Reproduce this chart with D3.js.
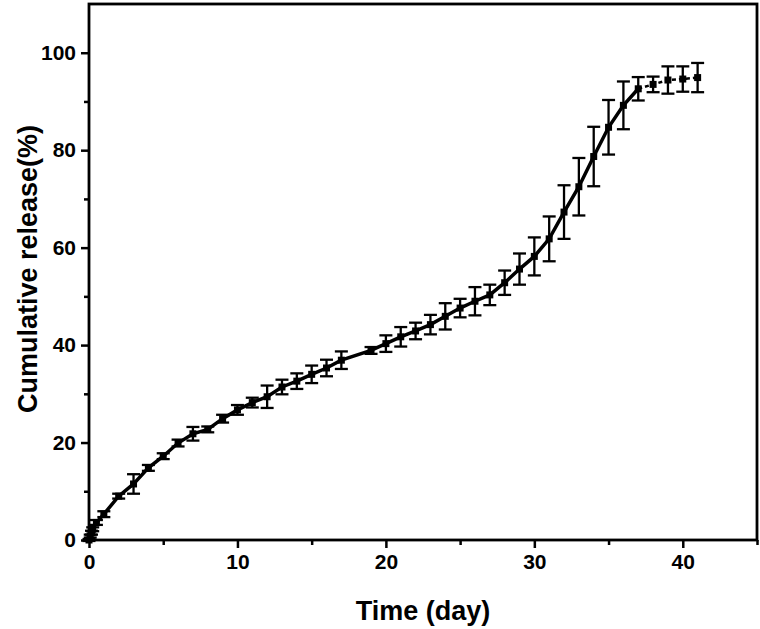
<!DOCTYPE html>
<html>
<head>
<meta charset="utf-8">
<script src="https://cdn.jsdelivr.net/npm/d3@7"></script>
<style>
  body { margin: 0; background: #fff; }
  svg text { font-family: "Liberation Sans", Arial, sans-serif; font-weight: bold; fill: #000; }
</style>
</head>
<body>
<svg id="chart" width="760" height="629"></svg>
<script>
// release data
const days = [0, 0.083, 0.167, 0.25, 0.5, 1, 2, 3, 4, 5, 6, 7, 8, 9, 10, 11, 12, 13, 14, 15, 16, 17,
    19, 20, 21, 22, 23, 24, 25, 26, 27, 28, 29, 30, 31, 32, 33, 34, 35, 36, 37, 38, 39, 40, 41]
const release = [0, 0.8, 1.5, 2.2, 3.6, 5.3, 9.0, 11.5, 14.8, 17.2, 19.9, 21.8, 22.7, 24.9, 26.7, 28.2, 29.4, 31.4, 32.6, 34.0, 35.3, 36.9,
    38.9, 40.3, 41.7, 42.9, 44.2, 45.9, 47.6, 49.0, 50.3, 52.8, 55.6, 58.2, 61.8, 67.3, 72.5, 78.7, 84.7, 89.2, 92.6, 93.5, 94.4, 94.6, 94.9]
const errors = [0.2, 0.3, 0.4, 0.4, 0.5, 0.6, 0.5, 2.0, 0.6, 0.6, 0.7, 1.4, 0.6, 0.8, 1.0, 1.0, 2.3, 1.5, 1.6, 1.8, 1.7, 1.8,
    0.7, 1.7, 2.0, 1.7, 2.0, 2.7, 1.9, 2.9, 2.1, 2.5, 3.2, 3.9, 4.6, 5.5, 5.9, 6.1, 5.6, 4.9, 2.4, 1.6, 2.8, 2.6, 3.0]

const xTicks = [0, 10, 20, 30, 40]
const yTicks = [0, 20, 40, 60, 80, 100]
const xMinor = [5, 15, 25, 35, 45]
const yMinor = [10, 30, 50, 70, 90]

const data = days.map((d, i) => ({ day: d, value: release[i], err: errors[i] }))

const svg = d3.select('#chart')
const margin = { left: 89, right: 3, top: 4, bottom: 89 }
const width = 760
const height = 629

const x = d3.scaleLinear().domain([0, 45]).range([margin.left, width - margin.right])
const y = d3.scaleLinear().domain([0, 110]).range([height - margin.bottom, margin.top])

// axes
const xAxis = svg.append('g')
    .attr('transform', `translate(0, ${y(0)})`)
    .call(d3.axisBottom(x).tickValues(xTicks).tickSize(8).tickPadding(6))
xAxis.append('g').call(d3.axisBottom(x).tickValues(xMinor).tickSize(5).tickFormat(''))

const yAxis = svg.append('g')
    .attr('transform', `translate(${x(0)}, 0)`)
    .call(d3.axisLeft(y).tickValues(yTicks).tickSize(8).tickPadding(5))
yAxis.append('g').call(d3.axisLeft(y).tickValues(yMinor).tickSize(5).tickFormat(''))

svg.selectAll('.domain').remove()
svg.selectAll('.tick line').attr('stroke', '#000').attr('stroke-width', 2.5)
svg.selectAll('.tick text').style('font-size', '21px')

// frame
svg.append('rect')
    .attr('x', x(0))
    .attr('y', y(110))
    .attr('width', x(45) - x(0))
    .attr('height', y(0) - y(110))
    .attr('fill', 'none')
    .attr('stroke', '#000')
    .attr('stroke-width', 2.8)

// axis titles
svg.append('text')
    .attr('x', (x(0) + x(45)) / 2)
    .attr('y', 620)
    .attr('text-anchor', 'middle')
    .style('font-size', '27px')
    .text('Time (day)')

svg.append('text')
    .attr('transform', `translate(37, ${(y(0) + y(110)) / 2 - 3}) rotate(-90)`)
    .attr('text-anchor', 'middle')
    .style('font-size', '27px')
    .text('Cumulative release(%)')

// line
const line = d3.line().x((d) => x(d.day)).y((d) => y(d.value))
const solidPart = data.filter((d) => d.day <= 37)
const dashPart = data.filter((d) => d.day >= 37)

svg.append('path')
    .datum(solidPart)
    .attr('d', line)
    .attr('fill', 'none')
    .attr('stroke', '#000')
    .attr('stroke-width', 3.5)

svg.append('path')
    .datum(dashPart)
    .attr('d', line)
    .attr('fill', 'none')
    .attr('stroke', '#000')
    .attr('stroke-width', 2.5)
    .attr('stroke-dasharray', '4,3')

// error bars
const capW = 6.5
const bars = svg.append('g')
    .attr('stroke', '#000')
    .attr('stroke-width', 2.3)
    .selectAll('g')
    .data(data)
    .enter()
    .append('g')

bars.append('line')
    .attr('x1', (d) => x(d.day))
    .attr('x2', (d) => x(d.day))
    .attr('y1', (d) => y(d.value - d.err))
    .attr('y2', (d) => y(d.value + d.err))

bars.append('line')
    .attr('x1', (d) => x(d.day) - capW)
    .attr('x2', (d) => x(d.day) + capW)
    .attr('y1', (d) => y(d.value + d.err))
    .attr('y2', (d) => y(d.value + d.err))

bars.append('line')
    .attr('x1', (d) => x(d.day) - capW)
    .attr('x2', (d) => x(d.day) + capW)
    .attr('y1', (d) => y(d.value - d.err))
    .attr('y2', (d) => y(d.value - d.err))

// markers
svg.append('g')
    .selectAll('rect')
    .data(data)
    .enter()
    .append('rect')
    .attr('x', (d) => x(d.day) - 3.5)
    .attr('y', (d) => y(d.value) - 3.5)
    .attr('width', 7)
    .attr('height', 7)
    .attr('fill', '#000')
</script>
</body>
</html>
